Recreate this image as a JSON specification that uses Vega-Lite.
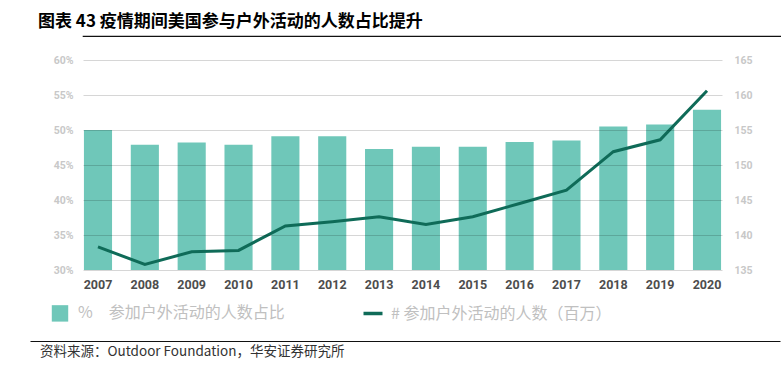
{
  "$schema": "https://vega.github.io/schema/vega-lite/v6.json",
  "padding": {"left": 30, "top": 13, "right": 0, "bottom": 0},
  "background": "#ffffff",
  "title": {"text": "图表 43 疫情期间美国参与户外活动的人数占比提升", "anchor": "start", "font": "Noto Sans CJK SC", "fontSize": 17, "fontWeight": "bold", "color": "#000000", "dx": 8, "offset": 4},
  "config": {"view": {"stroke": null}, "font": "Noto Sans CJK SC"},
  "columns": 1,
  "align": "none",
  "bounds": "full",
  "spacing": 18,
  "datasets": {
    "main": [
      {"year": "2007", "pct": 0.500, "num": 138.3},
      {"year": "2008", "pct": 0.479, "num": 135.8},
      {"year": "2009", "pct": 0.482, "num": 137.6},
      {"year": "2010", "pct": 0.479, "num": 137.8},
      {"year": "2011", "pct": 0.491, "num": 141.3},
      {"year": "2012", "pct": 0.491, "num": 141.9},
      {"year": "2013", "pct": 0.473, "num": 142.6},
      {"year": "2014", "pct": 0.476, "num": 141.5},
      {"year": "2015", "pct": 0.476, "num": 142.6},
      {"year": "2016", "pct": 0.483, "num": 144.5},
      {"year": "2017", "pct": 0.485, "num": 146.4},
      {"year": "2018", "pct": 0.505, "num": 151.9},
      {"year": "2019", "pct": 0.508, "num": 153.6},
      {"year": "2020", "pct": 0.529, "num": 160.6}
    ]
  },
  "concat": [
    {
      "width": 750,
      "height": 0.01,
      "view": {"stroke": "#111111", "strokeWidth": 1.2},
      "data": {"values": []},
      "mark": "rule",
      "encoding": {}
    },
    {
      "width": 639,
      "height": 210,
      "data": {"name": "main"},
      "encoding": {
        "x": {"field": "year", "type": "ordinal", "scale": {"paddingInner": 0.4, "paddingOuter": 0.02},
          "axis": {"title": null, "labelAngle": 0, "domain": false, "ticks": false, "grid": false, "labelPadding": 8, "minExtent": 53, "labelFont": "Roboto", "labelFontWeight": "bold", "labelFontSize": 12.5, "labelColor": "#4d4d4d"}}
      },
      "layer": [
        {
          "mark": {"type": "bar"},
          "encoding": {
            "y": {"field": "pct", "type": "quantitative", "scale": {"domain": [0.3, 0.6], "zero": false, "nice": false},
              "axis": {"title": null, "orient": "left", "values": [0.3, 0.35, 0.4, 0.45, 0.5, 0.55, 0.6], "format": ".0%", "domain": false, "ticks": false, "labelPadding": 10, "minExtent": 53, "labelFont": "Roboto", "labelFontWeight": "bold", "labelFontSize": 10.5, "labelColor": "#c8c8c8", "grid": true, "gridColor": "#000000", "gridOpacity": 0.16, "gridWidth": 1.2, "zindex": 1}},
            "y2": {"datum": 0.3},
            "color": {"datum": "%　参加户外活动的人数占比", "type": "nominal",
              "scale": {"domain": ["%　参加户外活动的人数占比", "# 参加户外活动的人数（百万）"], "range": ["#6fc7b9", "#0f6b58"]},
              "legend": {"title": null, "orient": "none", "direction": "horizontal", "legendX": -31, "legendY": 269, "padding": 0,
                "labelFont": "Noto Sans CJK SC", "labelFontSize": 16, "labelColor": "#c0c0c0", "labelLimit": 400, "labelOffset": 10, "columnPadding": 71, "symbolSize": 300,
                "encode": {"symbols": {"update": {
                  "shape": {"signal": "datum.index === 0 ? 'square' : 'stroke'"},
                  "size": {"signal": "datum.index === 0 ? 270 : 361"},
                  "fill": {"signal": "datum.index === 0 ? '#6fc7b9' : 'transparent'"},
                  "stroke": {"signal": "datum.index === 0 ? 'transparent' : '#0f6b58'"},
                  "strokeWidth": {"signal": "datum.index === 0 ? 0 : 3.5"},
                  "opacity": {"value": 1}
                }}}}}
          }
        },
        {
          "mark": {"type": "line", "strokeWidth": 3},
          "encoding": {
            "y": {"field": "num", "type": "quantitative", "scale": {"domain": [135, 165], "zero": false, "nice": false},
              "axis": {"title": null, "orient": "right", "values": [135, 140, 145, 150, 155, 160, 165], "domain": false, "ticks": false, "grid": false, "labelPadding": 12, "labelFont": "Roboto", "labelFontWeight": "bold", "labelFontSize": 10.5, "labelColor": "#c8c8c8"}},
            "color": {"datum": "# 参加户外活动的人数（百万）", "type": "nominal"}
          }
        }
      ],
      "resolve": {"scale": {"y": "independent"}}
    },
    {
      "width": 697,
      "height": 0.01,
      "data": {"values": [{"k": 0}, {"k": 1}]},
      "mark": {"type": "rule", "opacity": 0},
      "encoding": {"x": {"field": "k", "type": "quantitative", "scale": {"range": [-53, 697], "nice": false},
        "axis": {"orient": "bottom", "domainColor": "#111111", "domainWidth": 1.2, "labels": false, "ticks": false, "grid": false, "title": null}}},
      "title": {"text": "资料来源：Outdoor Foundation，华安证券研究所", "orient": "bottom", "anchor": "start", "font": "Noto Sans CJK SC", "fontSize": 13.5, "fontWeight": "normal", "color": "#333333", "dx": 10, "offset": 4}
    }
  ]
}
